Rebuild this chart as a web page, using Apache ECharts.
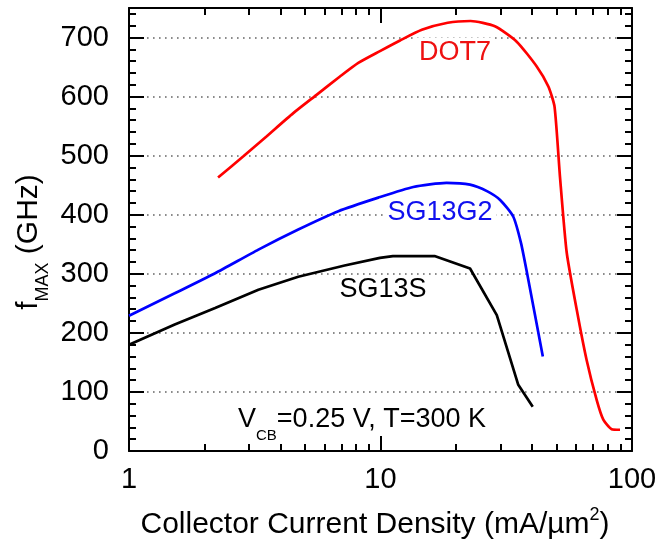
<!DOCTYPE html>
<html>
<head>
<meta charset="utf-8">
<script src="https://cdn.jsdelivr.net/npm/echarts@6/dist/echarts.min.js"></script>
<style>
html,body{margin:0;padding:0;background:#ffffff;}
#chart{width:671px;height:540px;}
</style>
</head>
<body>
<div id="chart"></div>
<script>
// ---- data ----
const dot7X = [2.26, 2.85, 3.53, 4.5, 5.57, 6.9, 8.16, 9.95, 11.96, 14.6, 18.5, 22.8, 28.5, 34.8, 41.8, 46.5, 49.2, 51.7, 55.0, 60.3, 66.0, 72.4, 76.9, 83.0, 89.6];
const dot7Y = [463, 499, 533, 572, 603, 634, 657, 677, 695, 713, 725, 728, 719, 693, 651, 617, 583, 465, 336, 239, 154, 86, 53, 37, 36];

const sg13g2X = [1.0, 1.52, 2.2, 3.27, 4.71, 6.8, 9.8, 13.5, 18.3, 22.7, 26.5, 29.9, 33.7, 36.2, 38.3, 44.2];
const sg13g2Y = [229, 267, 301, 341, 375, 406, 429, 447, 454, 451, 440, 425, 397, 352, 300, 160];

const sg13sX = [1.0, 1.52, 2.2, 3.27, 4.71, 7.2, 9.95, 11.2, 16.4, 22.7, 29.0, 35.3, 40.3];
const sg13sY = [180, 214, 242, 273, 295, 314, 327, 330, 330, 309, 230, 112, 75];

const seriesNames = ['DOT7', 'SG13G2', 'SG13S'];
const xMajorTicks = [1, 10, 100];
const xMinorTicks = [2, 3, 4, 5, 6, 7, 8, 9, 20, 30, 40, 50, 60, 70, 80, 90];
const yTickLabels = [0, 100, 200, 300, 400, 500, 600, 700];
const conditionText = ['V', 'CB', '=0.25 V, T=300 K'];
const xTitle = ['Collector Current Density (mA/\u00b5m', '2', ')'];
const yTitle = ['f', 'MAX', ' (GHz)'];

// ---- build ----
const zip = (xs, ys) => xs.map((x, i) => [x, ys[i]]);
const FONT = '"Liberation Sans", Arial, Helvetica, sans-serif';
const RED = '#ff0000', BLUE = '#0000ff', BLACK = '#000000';

const chart = echarts.init(document.getElementById('chart'), null, {renderer: 'canvas'});

function xAxisDef(position, major, showLine, showLabel) {
  return {
    type: 'log', logBase: 10, min: 1, max: 100, position: position, gridIndex: 0,
    axisLine: {show: showLine, onZero: false, lineStyle: {color: BLACK, width: 2}},
    axisTick: {show: true, inside: true, length: major ? 15 : 7,
      customValues: major ? xMajorTicks : xMinorTicks,
      lineStyle: {color: BLACK, width: 2}},
    axisLabel: {show: showLabel, customValues: xMajorTicks, margin: 14,
      fontSize: 29, fontFamily: FONT, color: BLACK},
    splitLine: {show: false},
    minorTick: {show: false}
  };
}

function yAxisDef(position, isMain) {
  return {
    type: 'value', min: 0, max: 750, interval: 100, position: position,
    axisLine: {show: true, onZero: false, lineStyle: {color: BLACK, width: 2}},
    axisTick: {show: true, inside: true, length: 15, customValues: yTickLabels,
      lineStyle: {color: BLACK, width: 2}},
    minorTick: {show: true, splitNumber: 5, length: 7, lineStyle: {color: BLACK, width: 2}},
    axisLabel: {show: isMain, customValues: yTickLabels, margin: 20,
      fontSize: 29, fontFamily: FONT, color: BLACK},
    splitLine: {show: isMain, lineStyle: {color: '#666666', width: 1.6, type: [1.6, 4.4]}}
  };
}

const richMain = (size) => ({fontSize: size, fontFamily: FONT, color: BLACK, lineHeight: size, verticalAlign: 'top'});

const option = {
  backgroundColor: '#ffffff',
  animation: false,
  grid: {left: 129, right: 39, top: 8, bottom: 89, containLabel: false},
  xAxis: [
    xAxisDef('bottom', true, true, true),
    xAxisDef('bottom', false, false, false),
    xAxisDef('top', true, true, false),
    xAxisDef('top', false, false, false)
  ],
  yAxis: [
    yAxisDef('left', true),
    yAxisDef('right', false)
  ],
  series: [
    {name: seriesNames[0], type: 'line', xAxisIndex: 0, yAxisIndex: 0, data: zip(dot7X, dot7Y),
      showSymbol: false, symbol: 'none', smooth: 0.2,
      lineStyle: {color: RED, width: 2.7}, z: 5},
    {name: seriesNames[1], type: 'line', xAxisIndex: 0, yAxisIndex: 0, data: zip(sg13g2X, sg13g2Y),
      showSymbol: false, symbol: 'none', smooth: 0.2,
      lineStyle: {color: BLUE, width: 2.7}, z: 5},
    {name: seriesNames[2], type: 'line', xAxisIndex: 0, yAxisIndex: 0, data: zip(sg13sX, sg13sY),
      showSymbol: false, symbol: 'none', smooth: false,
      lineStyle: {color: BLACK, width: 2.7}, z: 5}
  ],
  graphic: [
    {type: 'text', x: 455, y: 53, z: 1, style: {text: seriesNames[0], fill: '#ee1111',
      font: '27px ' + FONT, align: 'center', verticalAlign: 'middle',
      backgroundColor: '#ffffff', padding: [2, 4]}},
    {type: 'text', x: 440, y: 213, z: 1, style: {text: seriesNames[1], fill: '#1010ee',
      font: '27px ' + FONT, align: 'center', verticalAlign: 'middle',
      backgroundColor: '#ffffff', padding: [2, 4]}},
    {type: 'text', x: 383, y: 290, z: 1, style: {text: seriesNames[2], fill: BLACK,
      font: '27px ' + FONT, align: 'center', verticalAlign: 'middle'}},
    {type: 'text', x: 238, y: 406, z: 1, style: {
      text: '{m|' + conditionText[0] + '}{s|' + conditionText[1] + '}{m|' + conditionText[2] + '}',
      align: 'left', verticalAlign: 'top',
      rich: {m: richMain(27), s: {fontSize: 15, fontFamily: FONT, color: BLACK, lineHeight: 15, padding: [22, 0, 0, 0], verticalAlign: 'top'}}
    }},
    {type: 'text', x: 375, y: 510, z: 1, style: {
      text: '{m|' + xTitle[0] + '}{s|' + xTitle[1] + '}{m|' + xTitle[2] + '}',
      align: 'center', verticalAlign: 'top',
      rich: {m: richMain(30), s: {fontSize: 18, fontFamily: FONT, color: BLACK, lineHeight: 18, padding: [-4, 0, 0, 0], verticalAlign: 'top'}}
    }},
    {type: 'text', x: 14, y: 242, rotation: Math.PI / 2, z: 1, style: {
      text: '{m|' + yTitle[0] + '}{s|' + yTitle[1] + '}{m|' + yTitle[2] + '}',
      align: 'center', verticalAlign: 'top',
      rich: {m: richMain(30), s: {fontSize: 18, fontFamily: FONT, color: BLACK, lineHeight: 18, padding: [20, 0, 0, 0], verticalAlign: 'top'}}
    }}
  ]
};

chart.setOption(option);
</script>
</body>
</html>
